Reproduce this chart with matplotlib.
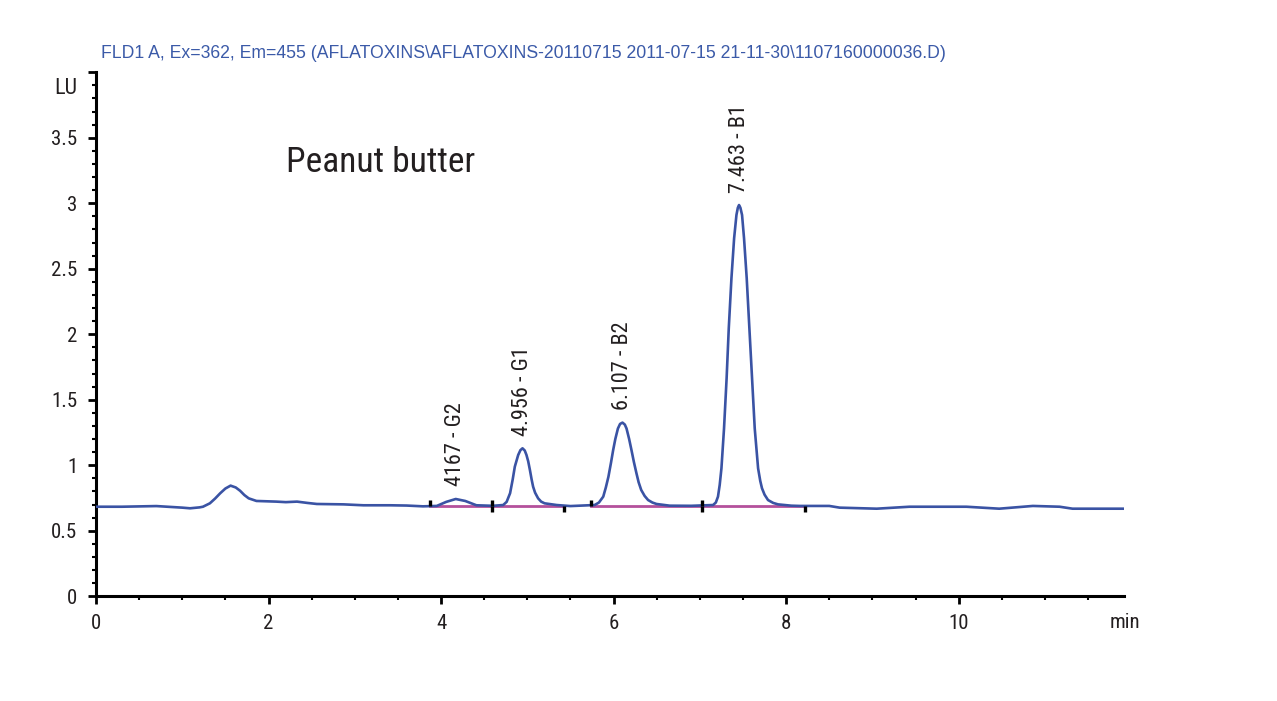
import matplotlib
matplotlib.use("Agg")
import matplotlib.pyplot as plt
from matplotlib.ticker import MultipleLocator

plt.rcParams["font.family"] = ["Roboto Condensed", "DejaVu Sans"]

# signal (time in min, response in LU)
times = [0.00, 0.30, 0.70, 1.00, 1.09, 1.20, 1.24, 1.32, 1.38, 1.44, 1.50, 1.56,
         1.62, 1.67, 1.72, 1.77, 1.86, 2.09, 2.20, 2.33, 2.45, 2.56, 2.87, 3.10,
         3.41, 3.60, 3.79, 3.95, 4.06, 4.17, 4.28, 4.41, 4.60, 4.72, 4.76, 4.80,
         4.83, 4.855, 4.894, 4.92, 4.944, 4.97, 4.99, 5.01, 5.03, 5.05, 5.067, 5.09,
         5.125, 5.16, 5.20, 5.34, 5.50, 5.78, 5.83, 5.88, 5.91, 5.94, 5.97, 5.995,
         6.02, 6.05, 6.075, 6.103, 6.13, 6.15, 6.18, 6.207, 6.235, 6.265, 6.29, 6.32,
         6.36, 6.40, 6.45, 6.497, 6.65, 6.90, 7.153, 7.185, 7.21, 7.23, 7.25, 7.28,
         7.31, 7.335, 7.366, 7.397, 7.424, 7.44, 7.454, 7.47, 7.489, 7.512, 7.543, 7.574,
         7.605, 7.636, 7.675, 7.70, 7.72, 7.75, 7.79, 7.85, 7.906, 8.06, 8.16, 8.50,
         8.62, 9.05, 9.43, 10.09, 10.47, 10.86, 11.17, 11.32, 11.92]
signal = [0.683, 0.683, 0.688, 0.676, 0.671, 0.678, 0.683, 0.709, 0.745, 0.786, 0.822, 0.844,
          0.830, 0.805, 0.772, 0.747, 0.727, 0.722, 0.718, 0.722, 0.712, 0.704, 0.701, 0.694,
          0.694, 0.692, 0.686, 0.689, 0.720, 0.742, 0.727, 0.694, 0.690, 0.696, 0.720, 0.786,
          0.890, 0.989, 1.078, 1.115, 1.129, 1.112, 1.078, 1.030, 0.963, 0.890, 0.836, 0.790,
          0.747, 0.722, 0.709, 0.696, 0.688, 0.696, 0.715, 0.760, 0.830, 0.912, 1.020, 1.116,
          1.200, 1.280, 1.315, 1.325, 1.310, 1.280, 1.200, 1.116, 1.025, 0.938, 0.870, 0.811,
          0.765, 0.734, 0.715, 0.704, 0.691, 0.690, 0.696, 0.715, 0.760, 0.850, 0.976, 1.280,
          1.663, 2.045, 2.427, 2.732, 2.910, 2.965, 2.986, 2.965, 2.910, 2.732, 2.427, 2.045,
          1.663, 1.280, 0.976, 0.880, 0.824, 0.775, 0.734, 0.712, 0.701, 0.691, 0.689, 0.689,
          0.676, 0.668, 0.683, 0.683, 0.668, 0.689, 0.683, 0.668, 0.668]

# integration baselines
seg_start = [3.87, 4.59, 5.74, 7.02]
seg_end = [4.59, 5.43, 7.02, 8.22]
seg_level = [0.688, 0.688, 0.688, 0.687]

# peak annotations
peak_rt = [4.171, 4.944, 6.103, 7.454]
peak_top = [0.742, 1.129, 1.325, 2.986]
peak_text = ["4167 - G2", "4.956 - G1", "6.107 - B2", "7.463 - B1"]

x_ticks = [0, 2, 4, 6, 8, 10]
y_ticks = [0, 0.5, 1, 1.5, 2, 2.5, 3, 3.5, 4]
y_labels = ["0", "0.5", "1", "1.5", "2", "2.5", "3", "3.5", ""]

ink = "#231f20"
blue = "#3a53a4"
magenta = "#b4509c"

fig = plt.figure(figsize=(12.77, 7.01), dpi=100)
ax = fig.add_axes([96 / 1277, 1 - 596.2 / 701, (1124.3 - 96) / 1277, 524 / 701])

ax.plot(times, signal, color=blue, lw=1.9, zorder=3)
for s, e, lv in zip(seg_start, seg_end, seg_level):
    ax.plot([s, e], [lv, lv], color=magenta, lw=2.0, zorder=2)
    ax.vlines(s, lv, lv + 0.045, color="black", lw=2.4, zorder=4)
    ax.vlines(e, lv - 0.045, lv, color="black", lw=2.4, zorder=4)

for rt, top, txt in zip(peak_rt, peak_top, peak_text):
    ax.annotate(txt, (rt, top), xytext=(0, 9), textcoords="offset points",
                rotation=90, ha="center", va="bottom", fontsize=16, color=ink)

ax.text(2.2, 3.31, "Peanut butter", fontsize=25.5, color=ink, va="center")

ax.set_xlim(0, 11.92)
ax.set_ylim(0, 4.0)
ax.set_xticks(x_ticks)
ax.set_xticklabels([str(v) for v in x_ticks])
ax.set_yticks(y_ticks)
ax.set_yticklabels(y_labels)
ax.xaxis.set_minor_locator(MultipleLocator(0.5))
ax.yaxis.set_minor_locator(MultipleLocator(0.1))
ax.tick_params(which="major", direction="out", length=5.5, width=2, labelsize=15,
               colors="black", labelcolor=ink)
ax.tick_params(which="minor", direction="out", length=3, width=1.5, colors="black")
ax.tick_params(axis="y", pad=8)
ax.tick_params(axis="x", pad=7)
for side in ["top", "right"]:
    ax.spines[side].set_visible(False)
for side in ["left", "bottom"]:
    ax.spines[side].set_linewidth(2.2)

fig.text(77 / 1277, 1 - 88 / 701, "LU", fontsize=16, color=ink, ha="right", va="center")
fig.text(1125 / 1277, 1 - 622 / 701, "min", fontsize=15, color=ink, ha="center", va="center")
fig.text(101 / 1277, 1 - 53 / 701,
         "FLD1 A, Ex=362, Em=455 (AFLATOXINS\\AFLATOXINS-20110715 2011-07-15 21-11-30\\1107160000036.D)",
         fontsize=12.7, color="#3b5aa8", family=["Liberation Sans", "DejaVu Sans"], va="center")

fig.savefig("out.png", dpi=100)
